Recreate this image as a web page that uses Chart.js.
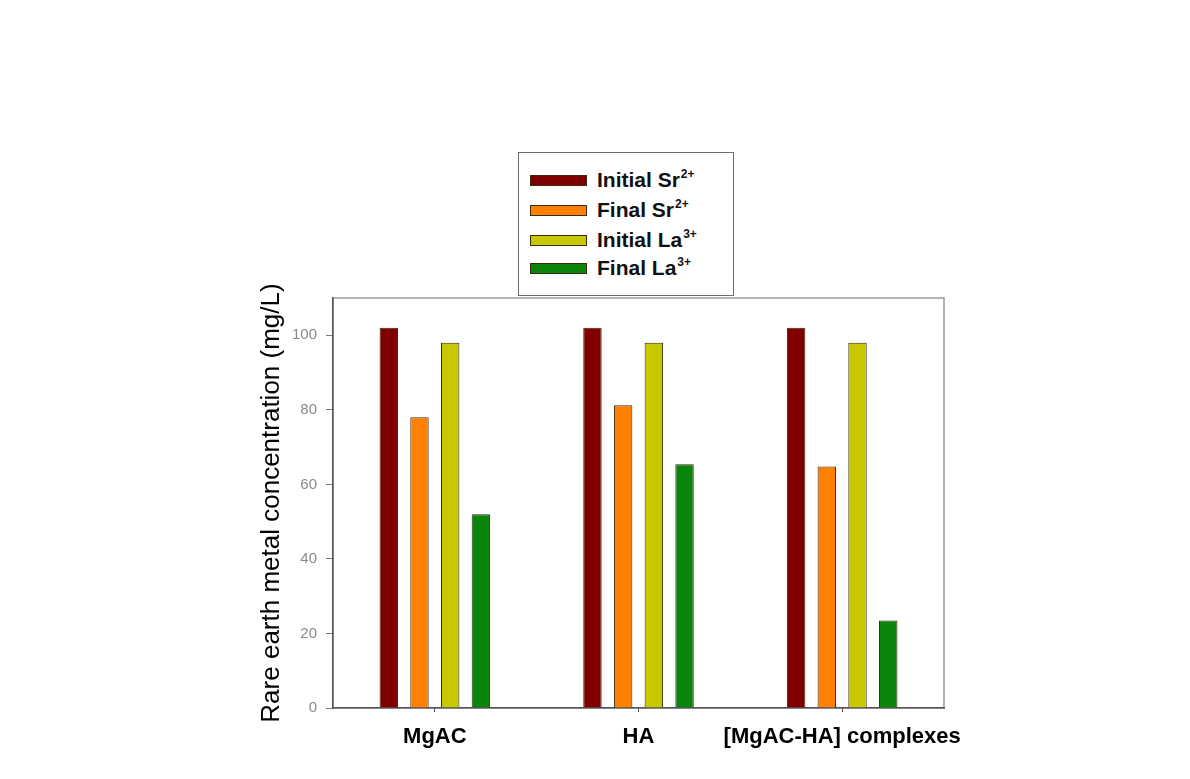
<!DOCTYPE html>
<html>
<head>
<meta charset="utf-8">
<script src="https://cdn.jsdelivr.net/npm/chart.js@4.4.0/dist/chart.umd.min.js"></script>
<style>
html,body{margin:0;padding:0;background:#fff;}
#wrap{position:relative;width:1190px;height:779px;}
#legend{position:absolute;left:518px;top:152px;width:214px;height:142px;border:1.5px solid #6e6e6e;background:#fff;font-family:"Liberation Sans",Arial,sans-serif;z-index:2;}
.row{position:absolute;left:0;width:214px;height:30px;}
.sw{position:absolute;left:11px;top:10px;width:55px;height:9px;border:1px solid #3a2a10;}
.lbl{position:absolute;left:78px;top:0;font-weight:bold;font-size:21px;color:#111;white-space:nowrap;line-height:30px;}
.lbl sup{font-size:12px;vertical-align:baseline;position:relative;top:-9px;margin-left:1px;}
</style>
</head>
<body>
<div id="wrap">
<canvas id="c" width="1190" height="779"></canvas>
<div id="legend"></div>
</div>
<script>
const categories = ['MgAC', 'HA', '[MgAC-HA] complexes'];
const seriesNames = ['Initial Sr', 'Final Sr', 'Initial La', 'Final La'];
const seriesCharges = ['2+', '2+', '3+', '3+'];
const initialSr = [102, 102, 102];
const finalSr = [78, 81.2, 64.8];
const initialLa = [98, 98, 98];
const finalLa = [52, 65.4, 23.5];
const yTicks = [0, 20, 40, 60, 80, 100];
const yTitle = 'Rare earth metal concentration (mg/L)';

const seriesValues = [initialSr, finalSr, initialLa, finalLa];
const seriesColors = ['#800000', '#ff8000', '#c8c800', '#0a840a'];

const datasets = seriesNames.map((n, i) => ({
  label: n + seriesCharges[i],
  data: seriesValues[i],
  backgroundColor: seriesColors[i],
  borderColor: '#3a2a10',
  borderWidth: 1,
  categoryPercentage: 0.603,
  barPercentage: 0.6
}));

const framePlugin = {
  id: 'frame',
  beforeDraw(chart) {
    const {ctx, chartArea: a} = chart;
    ctx.save();
    ctx.strokeStyle = '#9a9a9a';
    ctx.lineWidth = 1.5;
    ctx.strokeRect(a.left, a.top, a.right - a.left, a.bottom - a.top);
    ctx.restore();
  }
};

new Chart(document.getElementById('c'), {
  type: 'bar',
  data: { labels: categories, datasets },
  plugins: [framePlugin],
  options: {
    responsive: false,
    animation: false,
    layout: { padding: { left: 256, top: 298, right: 246, bottom: 0 } },
    plugins: { legend: { display: false }, tooltip: { enabled: false } },
    scales: {
      x: {
        grid: { display: true, drawOnChartArea: false, drawTicks: true, tickLength: 4, color: '#555', offset: false },
        border: { display: true, color: '#555', width: 1.5 },
        ticks: { color: '#000', padding: 12, font: { family: '"Liberation Sans", Arial, sans-serif', size: 22, weight: 'bold' }, maxRotation: 0, autoSkip: false },
        afterFit(s) { s.height = 71; }
      },
      y: {
        min: 0,
        max: 110,
        afterBuildTicks(s) { s.ticks = yTicks.map(v => ({ value: v })); },
        grid: { display: true, drawOnChartArea: false, drawTicks: true, tickLength: 7, color: '#777' },
        border: { display: true, color: '#555', width: 1.5 },
        ticks: { color: '#8a8a8a', padding: 9, font: { family: '"Liberation Sans", Arial, sans-serif', size: 15 } },
        title: { display: true, text: yTitle, color: '#000', padding: { top: 0, bottom: 0 }, font: { family: '"Liberation Sans", Arial, sans-serif', size: 26 } },
        afterFit(s) { s.width = 77; }
      }
    }
  }
});

const legend = document.getElementById('legend');
const rowCenters = [26.5, 56.5, 86.5, 115];
seriesNames.forEach((n, i) => {
  const row = document.createElement('div');
  row.className = 'row';
  row.style.top = (rowCenters[i] - 15) + 'px';
  const sw = document.createElement('div');
  sw.className = 'sw';
  sw.style.background = seriesColors[i];
  const lbl = document.createElement('div');
  lbl.className = 'lbl';
  lbl.textContent = n;
  const sup = document.createElement('sup');
  sup.textContent = seriesCharges[i];
  lbl.appendChild(sup);
  row.appendChild(sw);
  row.appendChild(lbl);
  legend.appendChild(row);
});
</script>
</body>
</html>
